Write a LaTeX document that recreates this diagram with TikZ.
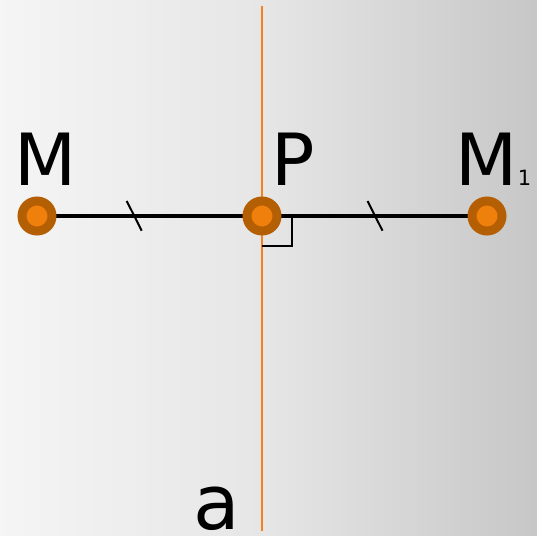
\documentclass[tikz,border=0pt]{standalone}
\usepackage{fontspec}
\setmainfont{DejaVu Sans}
\definecolor{ptfill}{HTML}{F0800C}
\definecolor{ptedge}{HTML}{B55F05}
\definecolor{axis}{HTML}{F5821F}
\tikzset{
  pt/.style={circle,fill=ptfill,draw=ptedge,line width=9pt,minimum size=30pt,inner sep=0pt},
  seg/.style={line width=3.5pt,black},
  tick/.style={line width=2pt,black},
  big/.style={inner sep=0pt,font=\fontsize{72}{72}\selectfont},
}
\begin{document}
\begin{tikzpicture}[x=1pt,y=-1pt]
\useasboundingbox (0,0) rectangle (537,535);
\shade[left color=black!4,right color=black!22,middle color=black!10] (0,0) rectangle (537,535);
\coordinate (cM) at (37,216);
\coordinate (cP) at (262,216);
\coordinate (cM1) at (487,216);
\coordinate (top) at (262,6);
\coordinate (bot) at (262,531);
\draw[axis,line width=2.7pt] (top) -- (bot);
\draw[seg] (cM) -- (cP) -- (cM1);
\coordinate (t1a) at (126.7,201); \coordinate (t1b) at (141.7,230.7);
\coordinate (t2a) at (367.5,201); \coordinate (t2b) at (382.5,230.7);
\draw[tick] (t1a) -- (t1b);
\draw[tick] (t2a) -- (t2b);
\coordinate (r1) at (262,246); \coordinate (r2) at (292,246); \coordinate (r3) at (292,216);
\draw[line width=1.8pt,black] (r1) -- (r2) -- (r3);
\node[pt] (M) at (cM) {};
\node[pt] (P) at (cP) {};
\node[pt] (M1) at (cM1) {};
\node[big,anchor=base] (lM) at (45.9,185) {M};
\node[big,anchor=base west] (lP) at (271,185) {P};
\node[inner sep=0pt,anchor=base west] (lM1) at (455.5,185) {{\fontsize{72}{72}\selectfont M}{\fontsize{21}{21}\selectfont 1}};
\node[inner sep=0pt,anchor=base west,font=\fontsize{76}{76}\selectfont] (la) at (193,529) {a};
\end{tikzpicture}
\end{document}
